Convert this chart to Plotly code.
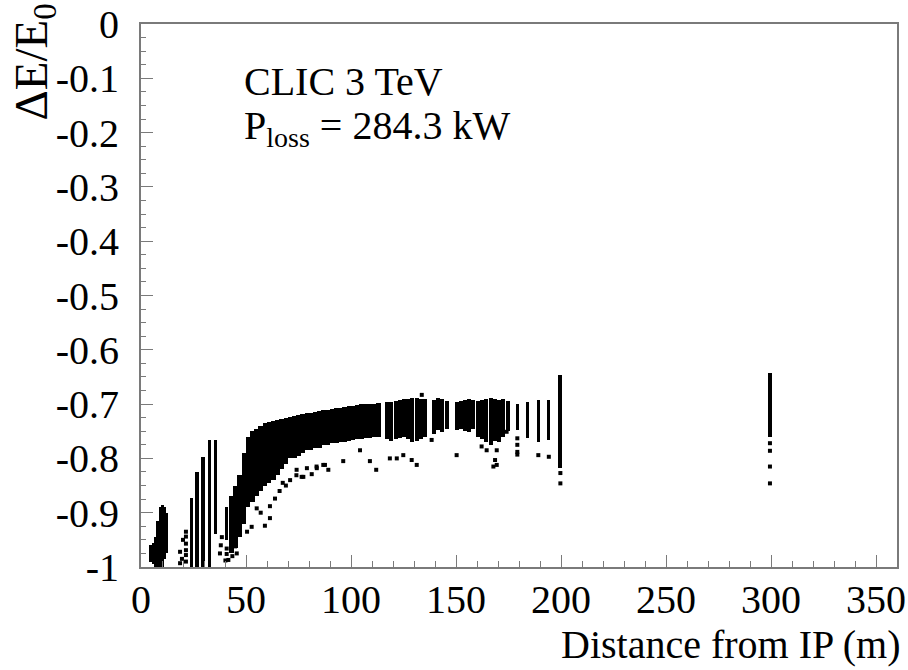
import plotly.graph_objects as go

# ---------------- data ----------------
# blob near the IP
blob_x   = [4.6, 5.7, 6.8, 7.9, 9.0, 10.1, 11.2, 12.1]
blob_top = [-0.96, -0.955, -0.945, -0.915, -0.89, -0.885, -0.89, -0.90]
blob_bot = [-0.99, -0.995, -1.0, -1.0, -1.0, -1.0, -0.985, -0.975]

# isolated tall columns 20-40 m
colB_x   = [24.0, 26.7, 29.6, 32.5, 35.4, 40.8]
colB_top = [-0.873, -0.825, -0.797, -0.766, -0.766, -0.89]
colB_bot = [-1.0, -1.0, -1.0, -1.0, -0.94, -0.95]

# dense band 42-114 m
band_x = [43, 45, 47, 49, 51, 53, 55, 57, 59, 61, 63, 65, 67, 69, 71, 73, 75, 77,
          79, 81, 83, 85, 87, 89, 91, 93, 95, 97, 99, 101, 103, 105, 107, 109, 111, 113.2]
band_top = [-0.87, -0.85, -0.83, -0.79, -0.76, -0.75, -0.745, -0.74, -0.735, -0.733,
            -0.731, -0.729, -0.727, -0.726, -0.724, -0.722, -0.72, -0.718, -0.717,
            -0.716, -0.715, -0.713, -0.711, -0.71, -0.709, -0.708, -0.707, -0.705,
            -0.704, -0.703, -0.702, -0.70, -0.70, -0.699, -0.699, -0.698]
band_bot = [-0.975, -0.965, -0.945, -0.92, -0.89, -0.88, -0.87, -0.86, -0.85, -0.845,
            -0.84, -0.83, -0.82, -0.81, -0.80, -0.80, -0.795, -0.79, -0.785, -0.785,
            -0.78, -0.78, -0.775, -0.775, -0.772, -0.772, -0.77, -0.77, -0.768, -0.766,
            -0.765, -0.765, -0.763, -0.762, -0.76, -0.76]

# blocks 117-176 m
blk_x = [117.2, 119.2, 121.2, 123.2, 125.2, 127.2, 129.2, 131.2, 133.2, 135.2,
         139.3, 141.3, 143.3, 145.5,
         150.3, 152.3, 154.3, 156.3, 158.3,
         160.5, 162.5, 164.5, 166.5, 168.5, 170.5, 172.5, 174.8]
blk_top = [-0.697, -0.696, -0.695, -0.692, -0.690, -0.690, -0.689, -0.689, -0.690, -0.690,
           -0.692, -0.689, -0.690, -0.694,
           -0.696, -0.694, -0.692, -0.690, -0.692,
           -0.694, -0.692, -0.690, -0.689, -0.690, -0.692, -0.690, -0.695]
blk_bot = [-0.765, -0.768, -0.765, -0.762, -0.760, -0.765, -0.770, -0.768, -0.765, -0.760,
           -0.755, -0.748, -0.752, -0.745,
           -0.748, -0.745, -0.750, -0.752, -0.745,
           -0.760, -0.765, -0.770, -0.775, -0.768, -0.770, -0.760, -0.750]

# thin far columns
thin_x   = [179.2, 184.2, 189.2, 194.2, 199.7, 299.5]
thin_top = [-0.700, -0.696, -0.692, -0.692, -0.646, -0.642]
thin_bot = [-0.748, -0.763, -0.770, -0.766, -0.818, -0.760]

# single scattered points
pts_x = [18.6, 18.6, 21.4, 21.4, 21.4, 21.4, 21.4, 21.4, 20.0, 19.5,
         37.6, 40.2, 40.8, 40.8, 41.6, 43.2, 43.5, 44.8, 45.6, 38.5, 38.0,
         52.7, 59.0, 61.4, 55.1, 61.4, 63.8, 74.1, 77.3, 81.3, 83.7, 86.8,
         74.0, 76.5, 79.0, 83.6, 87.6, 89.2, 96.3, 104.3, 109.0, 112.0,
         118.5, 121.8, 124.9, 128.9, 131.3, 133.7, 50.5, 57.0, 66.0, 69.0, 71.0, 67.5,
         150.3, 138.4, 162.2, 164.6, 168.6, 167.8, 169.4, 169.4, 174.1,
         179.2, 179.2, 179.2, 179.2, 189.2, 194.2, 199.7, 199.7,
         299.5, 299.5, 299.5, 299.5]
pts_y = [-0.972, -0.993, -0.935, -0.944, -0.957, -0.969, -0.978, -0.990, -0.95, -0.985,
         -0.975, -0.988, -0.966, -0.976, -0.987, -0.932, -0.98, -0.962, -0.975, -0.945, -0.96,
         -0.926, -0.924, -0.910, -0.892, -0.888, -0.874, -0.821, -0.834, -0.829, -0.818, -0.812,
         -0.831, -0.834, -0.818, -0.815, -0.812, -0.821, -0.805, -0.785, -0.805, -0.821,
         -0.800, -0.800, -0.794, -0.803, -0.812, -0.683, -0.935, -0.900, -0.860, -0.850, -0.840, -0.845,
         -0.794, -0.766, -0.778, -0.785, -0.803, -0.815, -0.812, -0.785, -0.751,
         -0.763, -0.775, -0.788, -0.793, -0.794, -0.797, -0.827, -0.846,
         -0.772, -0.786, -0.815, -0.846]

x_tickvals = [0, 50, 100, 150, 200, 250, 300, 350]
x_ticktext = ["0", "50", "100", "150", "200", "250", "300", "350"]
y_tickvals = [0, -0.1, -0.2, -0.3, -0.4, -0.5, -0.6, -0.7, -0.8, -0.9, -1]
y_ticktext = ["0", "-0.1", "-0.2", "-0.3", "-0.4", "-0.5", "-0.6", "-0.7", "-0.8", "-0.9", "-1"]

# ---------------- figure ----------------
FONT = "Liberation Serif, Times New Roman, serif"
fig = go.Figure()


def add_columns(xs, tops, bots, width):
    fig.add_trace(go.Bar(
        x=xs, y=[t - b for t, b in zip(tops, bots)], base=bots,
        width=width, marker=dict(color="black", line=dict(width=0)),
        showlegend=False, hoverinfo="skip"))


add_columns(blob_x, blob_top, blob_bot, 1.25)
add_columns(colB_x, colB_top, colB_bot, 1.6)
add_columns(band_x, band_top, band_bot, 2.15)
add_columns(blk_x, blk_top, blk_bot, 1.9)
add_columns(thin_x, thin_top, thin_bot, [1.4, 1.4, 1.4, 1.4, 2.0, 2.0])

fig.add_trace(go.Scatter(
    x=pts_x, y=pts_y, mode="markers",
    marker=dict(symbol="square", size=4, color="black", line=dict(width=0)),
    showlegend=False, hoverinfo="skip"))

axis_common = dict(
    showline=True, linecolor="#7a7a7a", linewidth=2, mirror=True,
    ticks="inside", tickcolor="#7a7a7a", ticklen=12, tickwidth=1,
    showgrid=False, zeroline=False, automargin=False,
    tickfont=dict(family=FONT, size=40, color="black"),
)

fig.update_layout(
    width=908, height=670,
    margin=dict(l=141, r=11, t=24, b=103),
    paper_bgcolor="white", plot_bgcolor="white",
    barmode="overlay", bargap=0,
    xaxis=dict(range=[0, 360], tickvals=x_tickvals, ticktext=x_ticktext,
               minor=dict(dtick=10, ticks="inside", ticklen=6, tickcolor="#7a7a7a"),
               ticklabelstandoff=-4, **axis_common),
    yaxis=dict(range=[-1, 0], tickvals=y_tickvals, ticktext=y_ticktext,
               minor=dict(dtick=0.025, ticks="inside", ticklen=5, tickcolor="#7a7a7a"),
               ticklabelstandoff=12, **axis_common),
    annotations=[
        dict(text="Distance from IP (m)", xref="paper", yref="paper",
             x=1.008, y=(567 - 644) / 543, xanchor="right", yanchor="middle",
             showarrow=False, font=dict(family=FONT, size=40, color="black")),
        dict(text="ΔE/E<sub>0</sub>", xref="paper", yref="paper",
             x=(34 - 141) / 756, y=(567 - 2) / 543, xanchor="center", yanchor="top",
             textangle=-90, showarrow=False,
             font=dict(family=FONT, size=47, color="black")),
        dict(text="CLIC 3 TeV", xref="paper", yref="paper",
             x=(242 - 141) / 756, y=(567 - 82) / 543, xanchor="left", yanchor="middle",
             showarrow=False, font=dict(family=FONT, size=40, color="black")),
        dict(text="P<sub>loss</sub> = 284.3 kW", xref="paper", yref="paper",
             x=(242 - 141) / 756, y=(567 - 128) / 543, xanchor="left", yanchor="middle",
             showarrow=False, font=dict(family=FONT, size=40, color="black")),
    ],
)

fig.write_html("out.html")
